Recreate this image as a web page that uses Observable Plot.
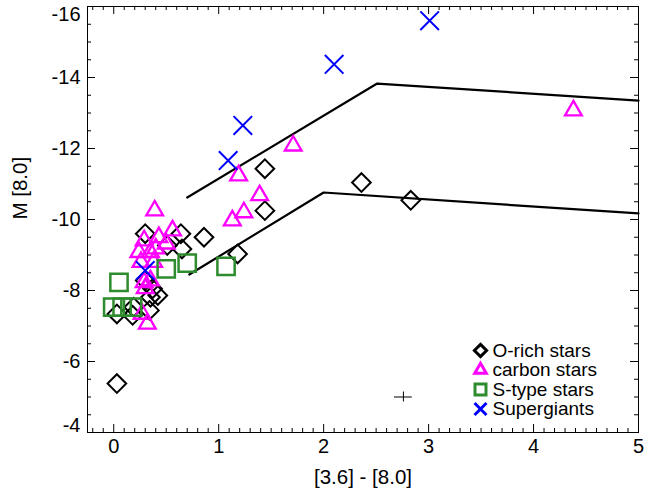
<!DOCTYPE html>
<html>
<head>
<meta charset="utf-8">
<script src="https://cdn.jsdelivr.net/npm/d3@7"></script>
<script src="https://cdn.jsdelivr.net/npm/@observablehq/plot@0.6"></script>
<style>
  html, body { margin: 0; padding: 0; background: white; }
</style>
</head>
<body>
<div id="chart"></div>
<script>
// ---- data (colour [3.6]-[8.0], absolute magnitude M[8.0]) ----
const oRichX = [0.03, 2.36, 2.83, 1.44, 1.44, 1.18, 0.86, 0.64, 0.65, 0.30, 0.51, 0.37, 0.42, 0.35, 0.30, 0.03, 0.19, 0.18, 0.34];
const oRichY = [-5.38, -11.04, -10.54, -11.43, -10.25, -9.03, -9.50, -9.60, -9.17, -9.60, -9.27, -8.05, -7.86, -7.81, -8.28, -7.34, -7.53, -7.30, -7.44];

const carbonX = [4.38, 1.71, 1.19, 1.39, 1.24, 1.13, 0.39, 0.56, 0.43, 0.29, 0.50, 0.24, 0.35, 0.40, 0.26, 0.38, 0.29, 0.35, 0.30, 0.27, 0.32];
const carbonY = [-13.07, -12.08, -11.24, -10.68, -10.20, -9.97, -10.25, -9.69, -9.50, -9.41, -9.32, -9.08, -9.08, -9.18, -8.80, -8.80, -8.23, -8.28, -8.06, -7.34, -7.06];

const sTypeX = [0.05, -0.01, 0.08, 0.18, 0.50, 0.70, 1.07];
const sTypeY = [-8.23, -7.53, -7.53, -7.53, -8.61, -8.77, -8.68];

const superX = [3.01, 2.10, 1.23, 1.09, 0.30];
const superY = [-15.60, -14.37, -12.65, -11.66, -8.56];

const upperLineX = [0.70, 2.51, 5.00];
const upperLineY = [-10.62, -13.83, -13.35];
const lowerLineX = [0.72, 2.00, 5.00];
const lowerLineY = [-8.45, -10.76, -10.17];

const errBar = {x: 2.76, y: -5.0, ex: 0.085, ey: 0.14};

const xTicks = [0, 1, 2, 3, 4, 5];
const yTicks = [-16, -14, -12, -10, -8, -6, -4];
const xLabel = "[3.6] - [8.0]";
const yLabel = "M [8.0]";

const legendItems = [
  {label: "O-rich stars", symbol: "diamond2", color: "black", r: 5.5},
  {label: "carbon stars", symbol: "triangle2", color: "#ff00ff", r: 5.5},
  {label: "S-type stars", symbol: "square2", color: "#2e8b2e", r: 7},
  {label: "Supergiants", symbol: "times", color: "#0000ff", r: 5.5}
];

// ---- build tables ----
const zip = (xs, ys) => xs.map((x, i) => ({x, y: ys[i]}));
const oRich = zip(oRichX, oRichY);
const carbon = zip(carbonX, carbonY);
const sType = zip(sTypeX, sTypeY);
const supers = zip(superX, superY);
const upperLine = zip(upperLineX, upperLineY);
const lowerLine = zip(lowerLineX, lowerLineY);

const xMinor = d3.range(-0.2, 5.001, 0.1).map(v => Math.round(v * 10) / 10).filter(v => !xTicks.includes(v));
const yMinor = d3.range(-16, -3.999, 0.5).filter(v => !yTicks.includes(v));

const W = 653, H = 491, mL = 87, mR = 15, mT = 6, mB = 59;
const innerW = W - mL - mR, innerH = H - mT - mB;
const majorLen = 8, minorLen = 4;
const font = "'Liberation Sans', Arial, Helvetica, sans-serif";
const tickFont = 20, labelFont = 20.5, legendFont = 19;

const legendMarks = [];
legendItems.forEach((d, i) => {
  legendMarks.push(Plot.dot([d], {
    frameAnchor: "bottom-right", dx: -158, dy: -82 + i * 19.5,
    symbol: d.symbol, r: d.r, stroke: d.color, strokeWidth: 3, fill: "none"
  }));
  legendMarks.push(Plot.text([d], {
    frameAnchor: "bottom-right", dx: -146, dy: -82 + i * 19.5,
    text: "label", textAnchor: "start", lineAnchor: "middle", fontSize: legendFont, fill: "black"
  }));
});

const yMid = yTicks.slice(1, -1);
const yTop = yTicks.slice(0, 1);
const yBot = yTicks.slice(-1);

const chart = Plot.plot({
  width: W, height: H,
  marginLeft: mL, marginRight: mR, marginTop: mT, marginBottom: mB,
  style: {fontFamily: font, fontSize: tickFont, background: "white", color: "black", overflow: "visible"},
  x: {domain: [-0.25, 5]},
  y: {domain: [-4, -16]},
  marks: [
    // ticks (inward, on all four sides)
    Plot.ruleX(xTicks, {x: d => d, insetTop: innerH - majorLen, stroke: "black"}),
    Plot.ruleX(xTicks, {x: d => d, insetBottom: innerH - majorLen, stroke: "black"}),
    Plot.ruleX(xMinor, {x: d => d, insetTop: innerH - minorLen, stroke: "black"}),
    Plot.ruleX(xMinor, {x: d => d, insetBottom: innerH - minorLen, stroke: "black"}),
    Plot.ruleY(yTicks, {y: d => d, insetRight: innerW - majorLen, stroke: "black"}),
    Plot.ruleY(yTicks, {y: d => d, insetLeft: innerW - majorLen, stroke: "black"}),
    Plot.ruleY(yMinor, {y: d => d, insetRight: innerW - minorLen, stroke: "black"}),
    Plot.ruleY(yMinor, {y: d => d, insetLeft: innerW - minorLen, stroke: "black"}),
    Plot.frame({stroke: "black", strokeWidth: 1}),
    Plot.axisX(xTicks, {tickSize: 0, tickPadding: 6, tickFormat: d => String(d), label: null, fontSize: tickFont}),
    Plot.axisY(yMid, {tickSize: 0, tickPadding: 7, tickFormat: d => String(d), label: null, fontSize: tickFont}),
    Plot.axisY(yTop, {tickSize: 0, tickPadding: 7, tickFormat: d => String(d), label: null, fontSize: tickFont, dy: 8}),
    Plot.axisY(yBot, {tickSize: 0, tickPadding: 7, tickFormat: d => String(d), label: null, fontSize: tickFont, dy: -7}),
    Plot.text([xLabel], {frameAnchor: "bottom", dy: 45, fontSize: labelFont, lineAnchor: "middle"}),
    Plot.text([yLabel], {frameAnchor: "left", dx: -67, rotate: -90, fontSize: labelFont, lineAnchor: "middle"}),
    // model lines
    Plot.line(upperLine, {x: "x", y: "y", stroke: "black", strokeWidth: 2.2}),
    Plot.line(lowerLine, {x: "x", y: "y", stroke: "black", strokeWidth: 2.2}),
    // error bar
    Plot.ruleY([errBar], {y: "y", x1: d => d.x - d.ex, x2: d => d.x + d.ex, stroke: "black", strokeWidth: 1}),
    Plot.ruleX([errBar], {x: "x", y1: d => d.y - d.ey, y2: d => d.y + d.ey, stroke: "black", strokeWidth: 1}),
    // data points
    Plot.dot(oRich, {x: "x", y: "y", symbol: "diamond2", r: 8.4, stroke: "black", strokeWidth: 2, fill: "none"}),
    Plot.dot(carbon, {x: "x", y: "y", symbol: "triangle2", r: 8, stroke: "#ff00ff", strokeWidth: 2.3, fill: "none"}),
    Plot.dot(sType, {x: "x", y: "y", symbol: "square2", r: 11, stroke: "#2e8b2e", strokeWidth: 2.5, fill: "none"}),
    Plot.dot(supers, {x: "x", y: "y", symbol: "times", r: 8.5, stroke: "#0000ff", strokeWidth: 2, fill: "none"}),
    ...legendMarks
  ]
});
document.getElementById("chart").appendChild(chart);
</script>
</body>
</html>
